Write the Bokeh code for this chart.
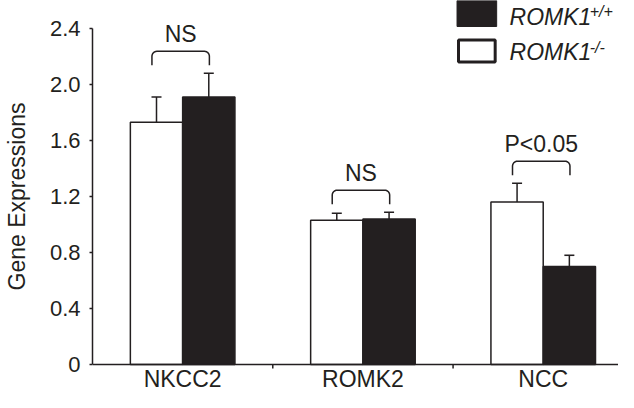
import numpy as np
from bokeh.plotting import figure
from bokeh.models import (Range1d, FixedTicker, PrintfTickFormatter, Whisker, TeeHead,
                          ColumnDataSource, Label, BoxAnnotation, Span)
from bokeh.core.properties import value
from bokeh.embed import file_html
from bokeh.resources import INLINE

# ---------------- data ----------------
categories = ["NKCC2", "ROMK2", "NCC"]
ko_values = [1.73, 1.03, 1.16]      # ROMK1-/- (white bars)
ko_errors = [0.18, 0.05, 0.135]
wt_values = [1.91, 1.04, 0.70]      # ROMK1+/+ (black bars)
wt_errors = [0.17, 0.048, 0.08]
significance = ["NS", "NS", "P<0.05"]
y_ticks = [0, 0.4, 0.8, 1.2, 1.6, 2.0, 2.4]
legend_names = ["ROMK1", "ROMK1"]
legend_sups = ["+/+", "-/-"]

# ---------------- layout / style ----------------
INK = "#231f20"
FONT = "Liberation Sans"
W, H = 618, 392
LEFT = 87
ZERO_Y = 364                      # pixel row of y = 0
frame_w = W - LEFT
PX_X = 182.0                      # px per category slot
PX_Y = 140.0                      # px per unit on y
x_end = frame_w / PX_X
y_end = ZERO_Y / PX_Y
y_start = -(H - ZERO_Y) / PX_Y


def dx(px):
    return px / PX_X


def dy(px):
    return px / PX_Y


def at_x(px):
    return (px - LEFT) / PX_X


def at_y(py):
    return (ZERO_Y - py) / PX_Y


p = figure(width=W, height=H, output_backend="svg", toolbar_location=None,
           x_range=Range1d(0, x_end), y_range=Range1d(y_start, y_end),
           min_border_left=LEFT, min_border_right=0, min_border_top=0,
           min_border_bottom=0)
p.outline_line_color = None
p.grid.visible = False
p.xaxis.visible = False

centers = np.arange(len(categories)) + 0.5
bw = 0.29
ko_x = centers - bw / 2
wt_x = centers + bw / 2

src = ColumnDataSource(dict(
    ko_x=ko_x, wt_x=wt_x, ko=ko_values, wt=wt_values,
    ko_hi=np.add(ko_values, ko_errors), wt_hi=np.add(wt_values, wt_errors)))

p.vbar(x="ko_x", top="ko", width=bw, source=src, fill_color="white",
       line_color=INK, line_width=1.5)
p.vbar(x="wt_x", top="wt", width=bw, source=src, fill_color=INK,
       line_color=INK, line_width=1.5)

for base, lo, hi in [("ko_x", "ko", "ko_hi"), ("wt_x", "wt", "wt_hi")]:
    w = Whisker(base=base, lower=lo, upper=hi, source=src, dimension="height",
                line_color=INK, line_width=1.5, level="overlay",
                upper_head=TeeHead(size=10, line_color=INK, line_width=1.5),
                lower_head=None)
    p.add_layout(w)

# ---------------- x axis (baseline, slot ticks, category names) ----------------
p.add_layout(Span(location=0, dimension="width", line_color=INK,
                  line_width=1.5, level="overlay"))
bounds = [1.0, 2.0, 3.0]
p.segment(x0=bounds, x1=bounds, y0=[0] * 3, y1=[-dy(4)] * 3,
          line_color=INK, line_width=1.5)
p.text(x=centers, y=[at_y(378)] * len(categories), text=categories,
       text_align="center", text_baseline="middle",
       text_font=value(FONT), text_font_size="23px", text_color=INK)

# ---------------- significance brackets ----------------
r = 5.0
bxs, bys, tx, ty = [], [], [], []
for i, c in enumerate(centers):
    top_err = max(ko_values[i] + ko_errors[i], wt_values[i] + wt_errors[i])
    yb = top_err + dy(8)
    yt = yb + dy(14)
    x0 = c - dx(31)
    x1 = c + dx(27)
    rx, ry = dx(r), dy(r)
    xs = [x0]
    ys = [yb]
    for t in np.linspace(np.pi, np.pi / 2, 8):
        xs.append(x0 + rx + rx * np.cos(t))
        ys.append(yt - ry + ry * np.sin(t))
    for t in np.linspace(np.pi / 2, 0, 8):
        xs.append(x1 - rx + rx * np.cos(t))
        ys.append(yt - ry + ry * np.sin(t))
    xs.append(x1)
    ys.append(yb)
    bxs.append(xs)
    bys.append(ys)
    tx.append((x0 + x1) / 2)
    ty.append(yt + dy(17))

p.multi_line(xs=bxs, ys=bys, line_color=INK, line_width=1.5)
p.text(x=tx, y=ty, text=significance, text_align="center",
       text_baseline="middle", text_font=value(FONT),
       text_font_size="23px", text_color=INK)

# ---------------- legend ----------------
p.add_layout(BoxAnnotation(left=at_x(455), right=at_x(495),
                           bottom=at_y(26), top=y_end,
                           fill_color=INK, fill_alpha=1, line_color=INK,
                           line_alpha=1, line_width=1, level="overlay"))
p.add_layout(BoxAnnotation(left=at_x(456.5), right=at_x(493.5),
                           bottom=at_y(61.5), top=at_y(39.5),
                           fill_color="white", fill_alpha=1, line_color=INK,
                           line_alpha=1, line_width=3, level="overlay"))
for name, sup, name_y, sup_y in zip(legend_names, legend_sups, [16, 51], [11, 47]):
    p.add_layout(Label(x=at_x(508), y=at_y(name_y), text=name,
                       text_font=FONT, text_font_size="23px",
                       text_font_style="italic", text_color=INK,
                       text_baseline="middle"))
    p.add_layout(Label(x=at_x(589), y=at_y(sup_y), text=sup,
                       text_font=FONT, text_font_size="16px",
                       text_font_style="italic", text_color=INK,
                       text_baseline="middle"))

# ---------------- y axis ----------------
ya = p.yaxis[0]
ya.ticker = FixedTicker(ticks=y_ticks)
ya.formatter = PrintfTickFormatter(format="%.1f")
ya.major_label_overrides = {0: "0"}
ya.bounds = (0, 2.4)
ya.axis_label = "Gene Expressions"
ya.axis_label_text_font = FONT
ya.axis_label_text_font_size = "23px"
ya.axis_label_text_font_style = "normal"
ya.axis_label_text_color = INK
ya.axis_label_standoff = 17
ya.major_label_text_font = FONT
ya.major_label_text_font_size = "22px"
ya.major_label_text_color = INK
ya.major_label_standoff = 9
ya.major_tick_out = 3
ya.major_tick_in = 0
ya.minor_tick_line_color = None
ya.axis_line_color = INK
ya.axis_line_width = 1.5
ya.major_tick_line_color = INK
ya.major_tick_line_width = 1.5

open("out.html", "w").write(file_html(p, INLINE))
